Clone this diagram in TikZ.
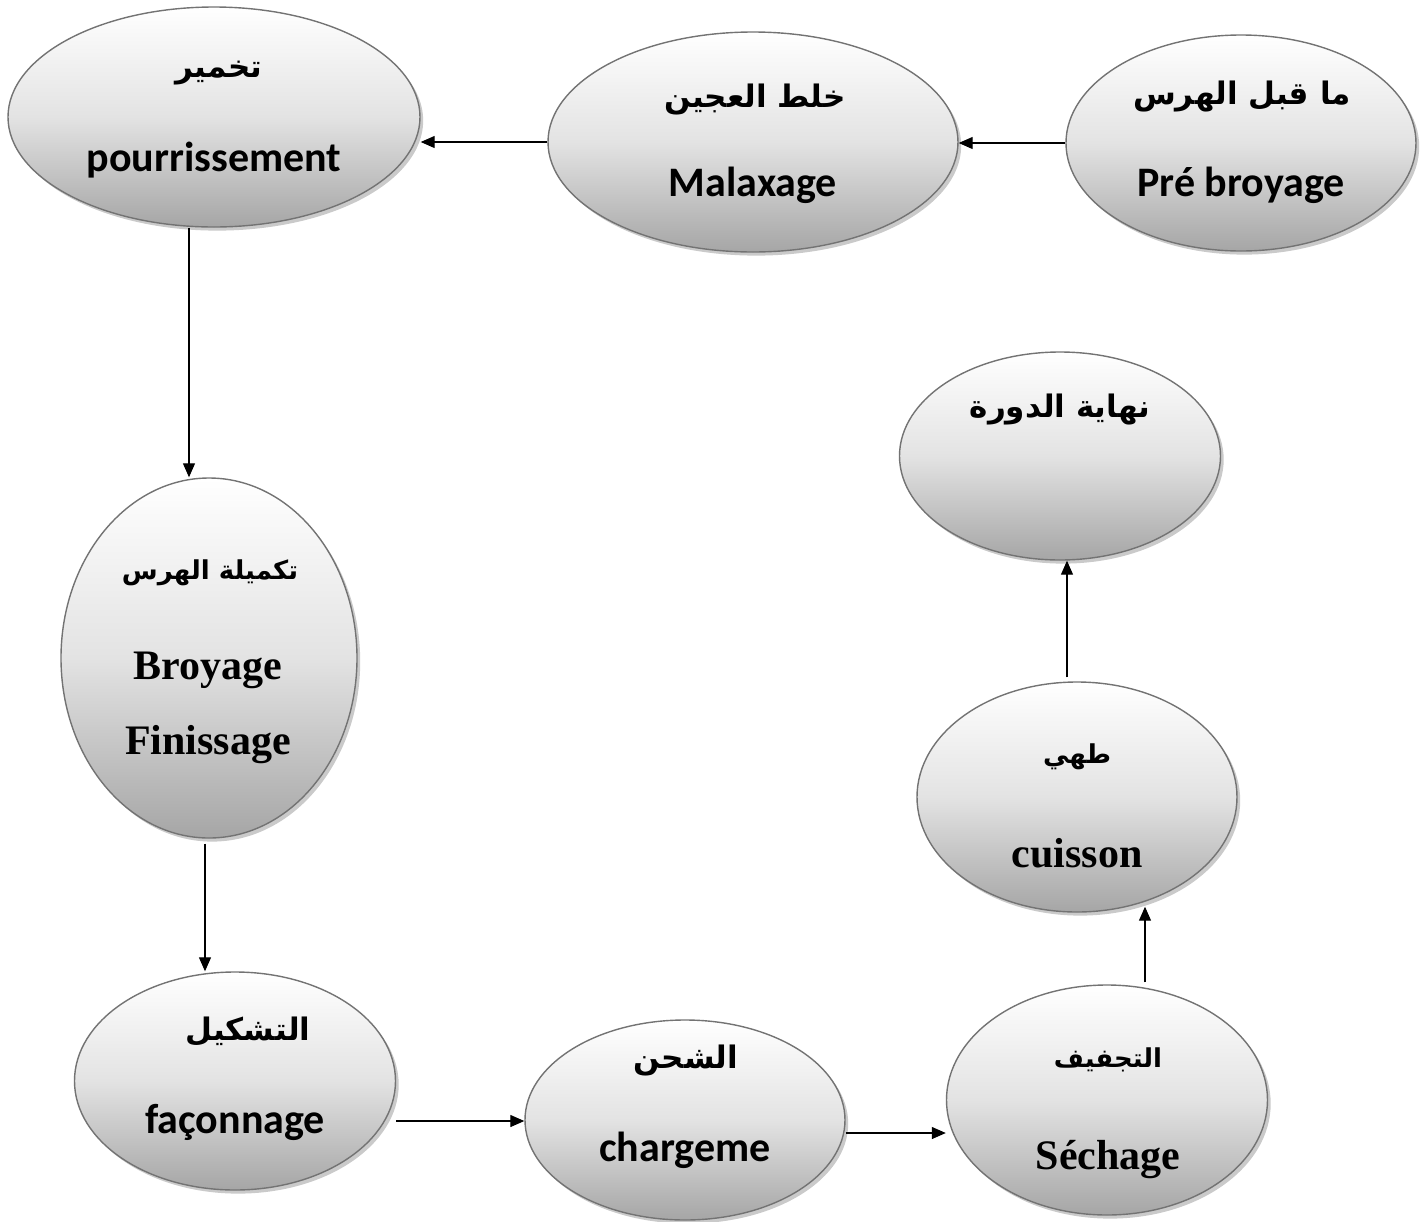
\documentclass[tikz,border=0pt]{standalone}
\usepackage{fontspec}
\usetikzlibrary{shapes.geometric,shadows,arrows.meta}
\TeXXeTstate=1
\newfontfamily\arabicfont[Script=Arabic]{DejaVu Sans}
\newfontfamily\calib{Carlito}
\newfontfamily\serifb{Liberation Serif}
\newcommand{\ar}[1]{\arabicfont\bfseries\beginR #1\endR}
\begin{document}
\begin{tikzpicture}[x=0.5pt,y=-0.5pt,
  stage/.style={ellipse, draw=black!55, line width=0.7pt, inner sep=0pt,
    top color=white, bottom color=gray!70, middle color=gray!22,
    drop shadow={shadow xshift=1.6pt, shadow yshift=-1.8pt, opacity=0.35, fill=black!60}},
  artxt/.style={font=\fontsize{15.5}{18}\selectfont},
  arsmall/.style={font=\fontsize{13}{15}\selectfont},
  lattxt/.style={font=\calib\bfseries\fontsize{21}{24}\selectfont},
  sertxt/.style={font=\serifb\bfseries\fontsize{21}{24}\selectfont},
  flow/.style={-{Triangle[length=7pt,width=6pt]}, line width=0.6pt}]
\useasboundingbox (0,0) rectangle (1426,1222);
% stages
\node[stage, minimum width=412pt*0.5, minimum height=220pt*0.5] (ferm) at (214,117) {};
\node[stage, minimum width=410pt*0.5, minimum height=220pt*0.5] (mal) at (753,142) {};
\node[stage, minimum width=350pt*0.5, minimum height=216pt*0.5] (pre) at (1241,143) {};
\node[stage, minimum width=296pt*0.5, minimum height=360pt*0.5] (broy) at (209,658) {};
\node[stage, minimum width=321pt*0.5, minimum height=218pt*0.5] (fac) at (235,1081) {};
\node[stage, minimum width=320pt*0.5, minimum height=200pt*0.5] (charg) at (685,1120) {};
\node[stage, minimum width=321pt*0.5, minimum height=230pt*0.5] (sech) at (1107,1100) {};
\node[stage, minimum width=320pt*0.5, minimum height=230pt*0.5] (cuis) at (1077,797) {};
\node[stage, minimum width=321pt*0.5, minimum height=208pt*0.5] (fin) at (1060,456) {};
% texts
\node[artxt] (t1a) at (219,73) {\ar{تخمير}};
\node[lattxt] (t1b) at (214,160) {pourrissement};
\node[artxt] (t2a) at (755,100) {\ar{خلط العجين}};
\node[lattxt] (t2b) at (753,185) {Malaxage};
\node[artxt] (t3a) at (1242,97) {\ar{ما قبل الهرس}};
\node[lattxt] (t3b) at (1241,185) {Pré broyage};
\node[arsmall] (t4a) at (210,573) {\ar{تكميلة الهرس}};
\node[sertxt] (t4b) at (208,670) {Broyage};
\node[sertxt] (t4c) at (208,745) {Finissage};
\node[artxt] (t5a) at (248,1032) {\ar{التشكيل}};
\node[lattxt] (t5b) at (235,1122) {façonnage};
\node[artxt] (t6a) at (686,1060) {\ar{الشحن}};
\node[lattxt] (t6b) at (685,1150) {chargeme};
\node[arsmall] (t7a) at (1108,1060) {\ar{التجفيف}};
\node[sertxt] (t7b) at (1108,1160) {Séchage};
\node[arsmall] (t8a) at (1077,757) {\ar{طهي}};
\node[sertxt] (t8b) at (1077,853) {cuisson};
\node[artxt] (t9a) at (1060,410) {\ar{نهاية الدورة}};
% connectors
\draw[flow] (pre.west) -- (pre.west -| mal.east);
\draw[flow] (mal.west) -- (mal.west -| ferm.east);
\draw[flow] (ferm.south -| 189,0) -- (broy.north -| 189,0);
\draw[flow] ([yshift=-2.5pt]broy.south -| 205,0) -- (fac.north -| 205,0);
\draw[flow] (fac.east |- 0,1121) -- (charg.west |- 0,1121);
\draw[flow] (charg.east |- 0,1133) -- (sech.west |- 0,1133);
\draw[flow] ([yshift=1pt]sech.north -| 1145,0) -- ([yshift=3pt]cuis.south -| 1145,0);
\draw[flow] ([yshift=2pt]cuis.north -| 1067,0) -- (fin.south -| 1067,0);
\end{tikzpicture}
\end{document}
